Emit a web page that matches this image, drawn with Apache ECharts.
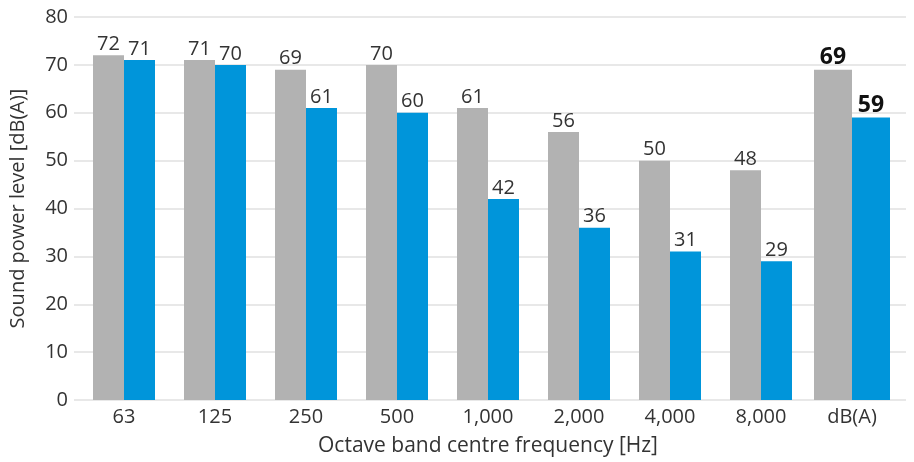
<!DOCTYPE html>
<html><head><meta charset="utf-8">
<script src="https://cdn.jsdelivr.net/npm/echarts@6/dist/echarts.min.js"></script>
<style>html,body{margin:0;padding:0;background:#fff}#c{width:914px;height:462px}</style>
</head><body><div id="c"></div>
<script>
const categories = ['63','125','250','500','1,000','2,000','4,000','8,000','dB(A)'];
const grayValues = [72,71,69,70,61,56,50,48,69];
const blueValues = [71,70,61,60,42,36,31,29,59];
const yTicks = [0,10,20,30,40,50,60,70,80];

const FONT = '"Open Sans", "Noto Sans", sans-serif';
const GRAY = '#b2b2b2', BLUE = '#0095da', TXT = '#333333';
const last = categories.length - 1;
const bandGray = grayValues.map((v,i)=> i===last ? '-' : v);
const bandBlue = blueValues.map((v,i)=> i===last ? '-' : v);
const totGray = grayValues.map((v,i)=> i===last ? v : '-');
const totBlue = blueValues.map((v,i)=> i===last ? v : '-');

const normalLabel = {show:true, position:'top', distance:1, color:TXT, fontFamily:FONT, fontSize:20};
const boldLabel = {show:true, position:'top', distance:1, color:'#111', fontFamily:FONT, fontSize:23, fontWeight:'bold'};

const chart = echarts.init(document.getElementById('c'));
chart.setOption({
  animation:false,
  grid:[
    {left:72, right:8, top:17, bottom:62},
    {left:78.5, right:16.5, top:17, bottom:62}
  ],
  xAxis:[
    {type:'category', gridIndex:0, data:categories, show:false},
    {type:'category', gridIndex:1, data:categories,
      axisLine:{show:false}, axisTick:{show:false},
      axisLabel:{color:TXT, fontFamily:FONT, fontSize:20, margin:7},
      name:'Octave band centre frequency [Hz]', nameLocation:'middle', nameGap:36,
      nameTextStyle:{color:TXT, fontFamily:FONT, fontSize:21}},
    {type:'category', gridIndex:1, data:categories, show:false}
  ],
  yAxis:[
    {type:'value', gridIndex:0, min:yTicks[0], max:yTicks[yTicks.length-1], interval:10,
      axisLine:{show:false}, axisTick:{show:false},
      splitLine:{lineStyle:{color:'#e8e8e8', width:2}},
      axisLabel:{color:TXT, fontFamily:FONT, fontSize:20, margin:6},
      name:'Sound power level [dB(A)]', nameLocation:'middle', nameGap:46, nameRotate:90,
      nameTextStyle:{color:TXT, fontFamily:FONT, fontSize:20}},
    {type:'value', gridIndex:1, min:0, max:80, interval:10, show:false}
  ],
  series:[
    {type:'bar', xAxisIndex:1, yAxisIndex:1, data:bandGray, barWidth:31, barGap:'0%',
      itemStyle:{color:GRAY}, label:normalLabel},
    {type:'bar', xAxisIndex:1, yAxisIndex:1, data:bandBlue, barWidth:31, barGap:'0%',
      itemStyle:{color:BLUE}, label:normalLabel},
    {type:'bar', xAxisIndex:2, yAxisIndex:1, data:totGray, barWidth:38, barGap:'0%',
      itemStyle:{color:GRAY}, label:boldLabel},
    {type:'bar', xAxisIndex:2, yAxisIndex:1, data:totBlue, barWidth:38, barGap:'0%',
      itemStyle:{color:BLUE}, label:boldLabel}
  ]
});
</script></body></html>
